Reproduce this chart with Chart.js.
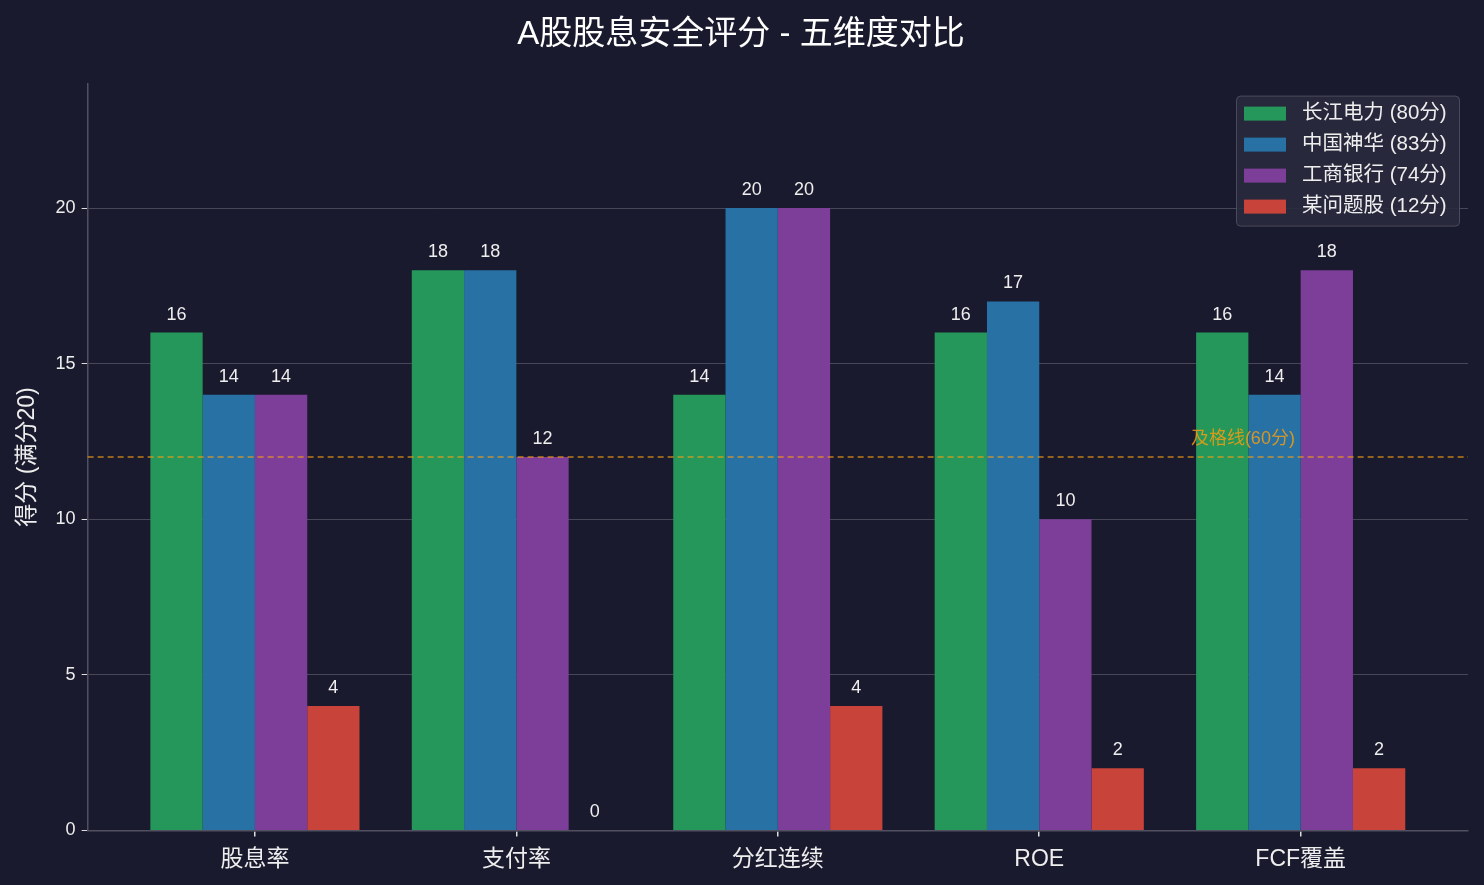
<!DOCTYPE html>
<html>
<head>
<meta charset="utf-8">
<script src="https://cdn.jsdelivr.net/npm/chart.js@4/dist/chart.umd.min.js"></script>
<style>
  html, body { margin: 0; padding: 0; background: #1a1a2e; }
  #wrap { width: 1484px; height: 885px; }
</style>
</head>
<body>
<div id="wrap"><canvas id="scoreChart"></canvas></div>
<script>
var categories = ['股息率', '支付率', '分红连续', 'ROE', 'FCF覆盖'];
var seriesNames = ['长江电力 (80分)', '中国神华 (83分)', '工商银行 (74分)', '某问题股 (12分)'];
var changjiang = [16, 18, 14, 16, 16];
var shenhua = [14, 18, 20, 17, 14];
var gongshang = [14, 12, 20, 10, 18];
var problem = [4, 0, 4, 2, 2];
var yTicks = [0, 5, 10, 15, 20];
var passLine = 12;
var passLabel = '及格线(60分)';

var colors = ['#25975a', '#2771a4', '#7d3e9a', '#c8443a'];
var FONT = '"Liberation Sans", "Noto Sans CJK SC", sans-serif';

function toPoints(arr) {
    return arr.map(function (v, i) { return { x: i, y: v }; });
}

var seriesData = [changjiang, shenhua, gongshang, problem];
var datasets = seriesData.map(function (arr, k) {
    return {
        label: seriesNames[k],
        data: toPoints(arr),
        backgroundColor: colors[k],
        borderWidth: 0,
        categoryPercentage: 0.8,
        barPercentage: 1.0
    };
});

// value labels above every bar
var valueLabels = {
    id: 'valueLabels',
    afterDatasetsDraw: function (chart) {
        var ctx = chart.ctx;
        ctx.save();
        ctx.fillStyle = '#eeeeee';
        ctx.font = '18px ' + FONT;
        ctx.textAlign = 'center';
        ctx.textBaseline = 'bottom';
        chart.data.datasets.forEach(function (ds, di) {
            chart.getDatasetMeta(di).data.forEach(function (bar, i) {
                ctx.fillText(String(ds.data[i].y), bar.x, bar.y - 9);
            });
        });
        ctx.restore();
    }
};

// dashed pass line with label
var passLinePlugin = {
    id: 'passLine',
    afterDatasetsDraw: function (chart) {
        var ctx = chart.ctx, area = chart.chartArea;
        var y = chart.scales.y.getPixelForValue(passLine);
        ctx.save();
        ctx.strokeStyle = 'rgba(243, 156, 18, 0.75)';
        ctx.lineWidth = 1.5;
        ctx.setLineDash([6, 4]);
        ctx.beginPath();
        ctx.moveTo(area.left, y);
        ctx.lineTo(area.right, y);
        ctx.stroke();
        ctx.setLineDash([]);
        ctx.fillStyle = 'rgba(243, 156, 18, 0.85)';
        ctx.font = '18px ' + FONT;
        ctx.textAlign = 'left';
        ctx.textBaseline = 'bottom';
        var tx = chart.scales.x.getPixelForValue(3.58);
        ctx.fillText(passLabel, tx, chart.scales.y.getPixelForValue(passLine + 0.3));
        ctx.restore();
    }
};

// boxed legend in the top-right corner of the plot
var boxLegend = {
    id: 'boxLegend',
    afterDraw: function (chart) {
        var ctx = chart.ctx, area = chart.chartArea;
        var w = 223, h = 130;
        var left = area.right - 9 - w, top = area.top + 12;
        ctx.save();
        ctx.fillStyle = 'rgba(42, 42, 62, 0.9)';
        ctx.strokeStyle = '#4a4a5a';
        ctx.lineWidth = 1;
        ctx.beginPath();
        ctx.roundRect(left + 0.5, top + 0.5, w, h, 4);
        ctx.fill();
        ctx.stroke();
        ctx.font = '20.5px ' + FONT;
        ctx.textBaseline = 'middle';
        ctx.textAlign = 'left';
        chart.data.datasets.forEach(function (ds, k) {
            var cy = top + 18 + k * 31;
            ctx.fillStyle = ds.backgroundColor;
            ctx.fillRect(left + 8, cy - 7, 42, 14);
            ctx.fillStyle = '#eeeeee';
            ctx.fillText(ds.label, left + 66, cy);
        });
        ctx.restore();
    }
};

var ctx = document.getElementById('scoreChart').getContext('2d');
var scoreChart = new Chart(ctx, {
    type: 'bar',
    data: { datasets: datasets },
    plugins: [valueLabels, passLinePlugin, boxLegend],
    options: {
        responsive: true,
        maintainAspectRatio: false,
        animation: false,
        layout: { padding: { left: 14, right: 16, top: 3, bottom: 3 } },
        plugins: {
            legend: { display: false },
            tooltip: { enabled: false },
            title: {
                display: true,
                text: 'A股股息安全评分 - 五维度对比',
                color: '#ffffff',
                font: { family: FONT, size: 33, weight: 'normal' },
                padding: { top: 12, bottom: 29 }
            }
        },
        scales: {
            x: {
                type: 'linear',
                offset: false,
                min: -0.64,
                max: 4.64,
                afterBuildTicks: function (scale) {
                    scale.ticks = categories.map(function (c, i) { return { value: i }; });
                },
                ticks: {
                    color: '#eeeeee',
                    font: { family: FONT, size: 23 },
                    padding: 9,
                    maxRotation: 0,
                    autoSkip: false,
                    callback: function (v) { return categories[v]; }
                },
                grid: {
                    offset: false,
                    drawOnChartArea: false,
                    drawTicks: true,
                    tickLength: 6,
                    tickColor: '#dddddd',
                    lineWidth: 1.5
                },
                border: { color: '#505060', width: 1.5 }
            },
            y: {
                min: 0,
                max: 24,
                afterBuildTicks: function (scale) {
                    scale.ticks = yTicks.map(function (v) { return { value: v }; });
                },
                ticks: {
                    color: '#eeeeee',
                    font: { family: FONT, size: 18 },
                    padding: 6
                },
                grid: {
                    color: 'rgba(255,255,255,0.2)',
                    lineWidth: 1,
                    tickLength: 6,
                    tickColor: '#dddddd'
                },
                border: { color: '#505060', width: 1.5 },
                title: {
                    display: true,
                    text: '得分 (满分20)',
                    color: '#eeeeee',
                    font: { family: FONT, size: 23 },
                    padding: { top: 0, bottom: 8 }
                }
            }
        }
    }
});
</script>
</body>
</html>
